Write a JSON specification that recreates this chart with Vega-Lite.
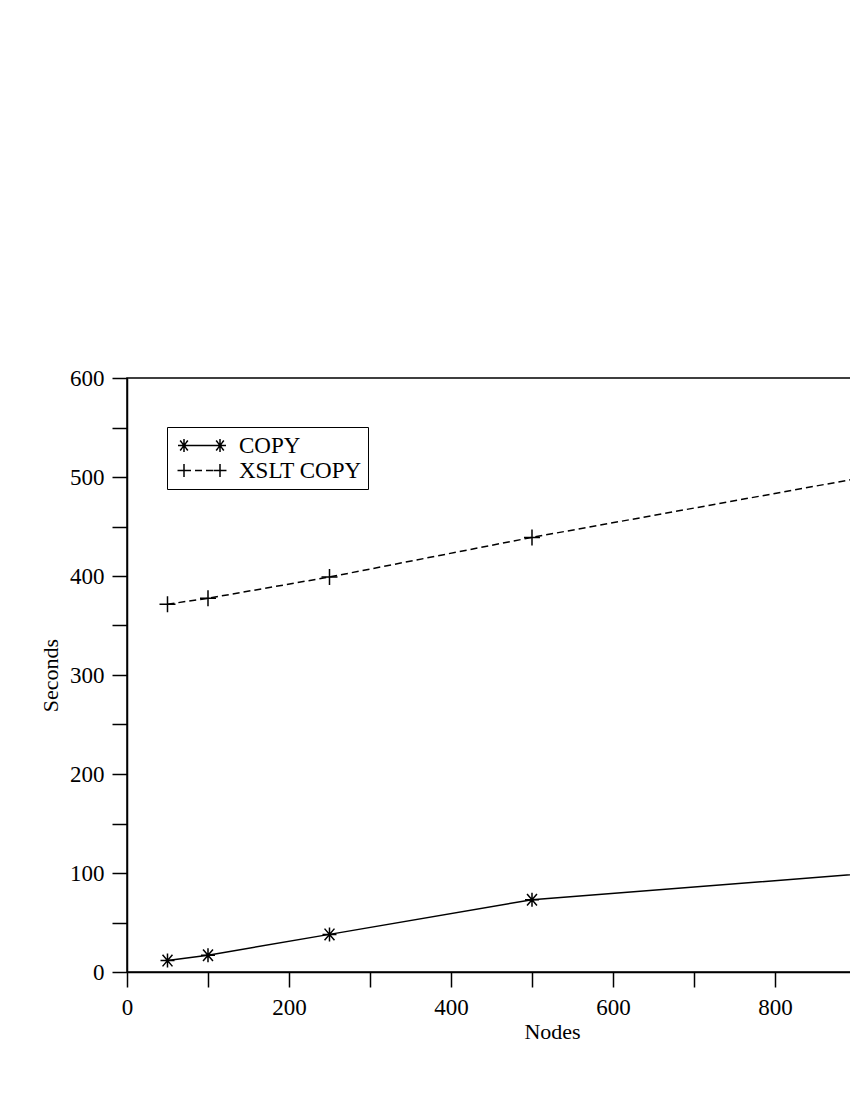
{
  "$schema": "https://vega.github.io/schema/vega-lite/v6.json",
  "width": 726,
  "height": 594,
  "autosize": {"type": "none"},
  "padding": {"left": 127, "top": 378, "right": -3, "bottom": 128},
  "background": "white",
  "config": {
    "view": {"stroke": "black", "strokeWidth": 1.5},
    "font": "Liberation Serif"
  },
  "data": {
    "values": [
      {"series": "COPY", "nodes": 50, "seconds": 11.5},
      {"series": "COPY", "nodes": 100, "seconds": 17},
      {"series": "COPY", "nodes": 250, "seconds": 38},
      {"series": "COPY", "nodes": 500, "seconds": 73},
      {"series": "COPY", "nodes": 1000, "seconds": 105},
      {"series": "XSLT COPY", "nodes": 50, "seconds": 371.5},
      {"series": "XSLT COPY", "nodes": 100, "seconds": 377.5},
      {"series": "XSLT COPY", "nodes": 250, "seconds": 399},
      {"series": "XSLT COPY", "nodes": 500, "seconds": 439},
      {"series": "XSLT COPY", "nodes": 1000, "seconds": 513}
    ]
  },
  "encoding": {
    "x": {
      "field": "nodes",
      "type": "quantitative",
      "scale": {"domain": [0, 896.3], "nice": false, "zero": false},
      "axis": {
        "values": [0, 100, 200, 300, 400, 500, 600, 700, 800],
        "labelExpr": "datum.value % 200 === 0 ? datum.label : ''",
        "tickSize": 15,
        "encode": {"ticks": {"update": {"y2": {"signal": "datum.value % 200 === 0 ? 15 : 8"}}}},
        "grid": false,
        "title": "Nodes",
        "titleX": 425,
        "titleFont": "Liberation Serif",
        "titleFontSize": 22,
        "titleFontWeight": "normal",
        "titleColor": "black",
        "titlePadding": 2,
        "labelFont": "Liberation Serif",
        "labelFontSize": 23,
        "labelColor": "black",
        "labelPadding": 9,
        "labelFlush": false,
        "labelOverlap": false,
        "tickColor": "black",
        "tickWidth": 1.5,
        "domainColor": "black",
        "domainWidth": 1.5
      }
    },
    "y": {
      "field": "seconds",
      "type": "quantitative",
      "scale": {"domain": [0, 600], "nice": false},
      "axis": {
        "values": [0, 50, 100, 150, 200, 250, 300, 350, 400, 450, 500, 550, 600],
        "labelExpr": "datum.value % 100 === 0 ? datum.label : ''",
        "tickSize": 15,
        "encode": {"ticks": {"update": {"x2": {"signal": "datum.value % 100 === 0 ? -15 : -8"}}}},
        "grid": false,
        "title": "Seconds",
        "titleFont": "Liberation Serif",
        "titleFontSize": 22,
        "titleFontWeight": "normal",
        "titleColor": "black",
        "titlePadding": 7,
        "labelFont": "Liberation Serif",
        "labelFontSize": 23,
        "labelColor": "black",
        "labelPadding": 8,
        "labelFlush": false,
        "labelOverlap": false,
        "tickColor": "black",
        "tickWidth": 1.5,
        "domainColor": "black",
        "domainWidth": 1.5
      }
    },
    "color": {
      "field": "series",
      "type": "nominal",
      "scale": {"domain": ["COPY", "XSLT COPY"], "range": ["black", "black"]},
      "legend": {
        "orient": "none",
        "legendX": 40,
        "legendY": 49,
        "title": null,
        "padding": 6,
        "strokeColor": "black",
        "fillColor": "white",
        "labelFont": "Liberation Serif",
        "labelFontSize": 23,
        "labelColor": "black",
        "labelOffset": 12,
        "symbolOffset": 4,
        "symbolSize": 2304,
        "clipHeight": 25,
        "rowPadding": 0,
        "symbolStrokeWidth": 1.5,
        "symbolStrokeColor": "black",
        "symbolFillColor": "transparent",
        "encode": {
          "symbols": {
            "update": {
              "size": {"value": 2304},
              "strokeWidth": {"value": 1.5},
              "shape": {"signal": "datum.value === 'COPY' ? 'M-0.75,0H0.75M-0.75,-0.27V0.27M-1,0H-0.5M-0.91,-0.21L-0.59,0.21M-0.91,0.21L-0.59,-0.21M0.75,-0.27V0.27M0.5,0H1M0.59,-0.21L0.91,0.21M0.59,0.21L0.91,-0.21' : 'M-0.75,0H0.75M-0.75,0H-1.02M-0.75,0H-0.48M-0.75,0V-0.27M-0.75,0V0.27M0.75,0H0.48M0.75,0H1.02M0.75,0V-0.27M0.75,0V0.27'"},
              "strokeDash": {"signal": "datum.value === 'COPY' ? [1, 0] : [7, 4]"}
            }
          }
        }
      }
    }
  },
  "layer": [
    {
      "transform": [{"filter": "datum.series === 'COPY'"}],
      "mark": {"type": "line", "strokeWidth": 1.5, "clip": true}
    },
    {
      "transform": [{"filter": "datum.series === 'XSLT COPY'"}],
      "mark": {"type": "line", "strokeWidth": 1.5, "strokeDash": [7, 4], "clip": true}
    },
    {
      "transform": [{"filter": "datum.series === 'COPY'"}],
      "mark": {"type": "point", "filled": false, "strokeWidth": 1.5, "size": 256, "opacity": 1, "clip": true,
               "shape": "M0,-0.875V0.875M-0.875,0H0.875M-0.62,-0.72L0.62,0.72M-0.62,0.72L0.62,-0.72"}
    },
    {
      "transform": [{"filter": "datum.series === 'XSLT COPY'"}],
      "mark": {"type": "point", "filled": false, "strokeWidth": 1.5, "size": 256, "opacity": 1, "clip": true,
               "shape": "M-1,0H1M0,-1V1"}
    }
  ]
}
